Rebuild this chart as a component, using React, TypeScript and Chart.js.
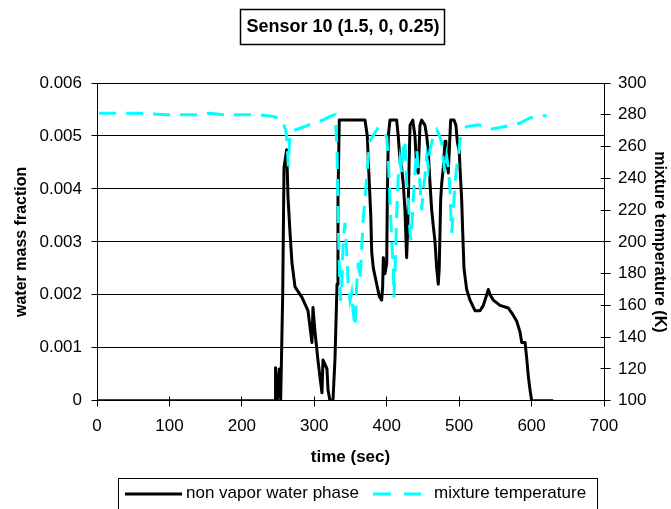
import React, { useEffect, useRef } from "react";
import { Chart, registerables } from "chart.js";

Chart.register(...registerables);

const FONT = "'Liberation Sans', Arial, Helvetica, sans-serif";

const chartTitle = "Sensor 10 (1.5, 0, 0.25)";
const xAxisTitle = "time (sec)";
const leftAxisTitle = "water mass fraction";
const rightAxisTitle = "mixture temperature (K)";
const seriesNames = ["non vapor water phase", "mixture temperature"];

// time (sec) for the water mass fraction series
const waterTime = [
  0, 245.8, 246.5, 248.9, 251.7, 253.6, 256.4, 258.2, 261.9, 263.7,
  266.5, 269.2, 273.4, 283, 291.3, 294, 296.8, 298.2, 301, 305,
  307.8, 310.6, 312, 317.5, 319, 321.7, 325.8, 328.6, 331.4, 332.7,
  334.5, 370, 373.2, 376, 378, 379.3, 381.6, 386.2, 389.8, 393,
  394.4, 395.3, 397.6, 400, 400.8, 402.2, 404.5, 413.7, 415.9, 418.3,
  420.6, 422.8, 425.2, 427.5, 428.9, 430.8, 432.2, 435.9, 439, 441.4,
  443.5, 445.9, 448.3, 452.8, 455.2, 457.4, 459.8, 462.1, 464.3, 466.7,
  469, 471.2, 472.5, 474.5, 475.9, 478.1, 480.5, 481.8, 483.6, 485,
  486.3, 488.3, 492.9, 495.6, 497.4, 500.2, 501.2, 503.5, 504.9, 506.7,
  510.4, 515, 521.9, 528.8, 533.4, 538.1, 540.3, 542.6, 547.2, 556.4,
  567.9, 572.6, 579.5, 584, 586.4, 591, 593.3, 595.6, 597.9, 600.2,
  630,
];

// water mass fraction values
const waterFraction = [
  0, 0, 0.00062, 0, 0.0006, 0.00002, 0.002, 0.0044, 0.00474, 0.00385,
  0.00317, 0.0026, 0.00215, 0.00195, 0.0017, 0.0014, 0.0011, 0.00176, 0.0013, 0.00077,
  0.00045, 0.00015, 0.00077, 0.0006, 0.0002, 0, 0, 0.0008, 0.0022, 0.0038,
  0.0053, 0.0053, 0.005, 0.0041, 0.0035, 0.0028, 0.0025, 0.0022, 0.00197, 0.0019,
  0.00215, 0.0027, 0.0024, 0.0026, 0.0038, 0.005, 0.0053, 0.0053, 0.005, 0.00455,
  0.0044, 0.0041, 0.0036, 0.0027, 0.0032, 0.0044, 0.0052, 0.0053, 0.005, 0.0044,
  0.0043, 0.0052, 0.0053, 0.0052, 0.005, 0.0047, 0.0041, 0.0036, 0.0033, 0.003,
  0.0025, 0.0022, 0.0025, 0.0038, 0.0041, 0.0044, 0.0049, 0.0044, 0.0047, 0.0043,
  0.0047, 0.0053, 0.0053, 0.0052, 0.0049, 0.0047, 0.0044, 0.0038, 0.0032, 0.0025,
  0.0021, 0.0019, 0.0017, 0.0017, 0.0018, 0.002, 0.0021, 0.002, 0.0019, 0.0018,
  0.00175, 0.00166, 0.0015, 0.0013, 0.0011, 0.0011, 0.0008, 0.00045, 0.0002, 0,
  0,
];

// time (sec) for the mixture temperature series
const tempTime = [
  3, 32, 59, 96, 138, 156, 174, 211, 225, 243,
  255.4, 261, 262.7, 264.1, 266.5, 271, 287, 294, 301, 312.4,
  321.7, 328.6, 331.4, 332.7, 334.8, 336.2, 337.8, 340, 342.4, 344.6,
  346.9, 349.3, 351.6, 353.9, 356.2, 357.6, 358.5, 360.8, 363.1, 365.4,
  367.7, 370, 372.4, 374.6, 376.9, 379.3, 388.4, 395.3, 400, 402.2,
  404.5, 406.9, 409.1, 410, 411.4, 413.7, 415.9, 418.3, 420.7, 422.9,
  425.2, 427.6, 429.8, 432.2, 433.5, 436.7, 439, 441.4, 443.6, 445.9,
  448.3, 450.5, 452.8, 455.2, 457.4, 459.8, 462.1, 464.3, 469, 473.6,
  475.9, 478.1, 480.5, 482.8, 485, 487.4, 488.3, 489.7, 491.1, 492.9,
  494.3, 496.6, 498.8, 501.2, 505.7, 510.4, 526.4, 538, 545, 563.3,
  574.8, 584, 597.8, 616.2, 620.8,
];

// mixture temperature (K)
const tempKelvin = [
  281, 281, 281, 280, 280, 281, 280, 280, 280, 279,
  277, 269.5, 260, 247.5, 268.7, 270, 272.6, 274, 274.8, 276.8,
  279, 280, 260, 220, 180, 163, 170, 201, 212, 195,
  172, 163, 168, 155, 146.6, 159, 172, 187, 176, 195,
  216, 226, 241, 253.6, 264, 265.5, 272, 269.5, 266, 251.7,
  226.5, 201, 184, 165, 180, 216, 241, 251.7, 243.5, 260,
  264, 237, 226.5, 205.7, 201, 226.5, 243.5, 258, 247, 237,
  220, 232.8, 241, 253.6, 247, 258, 262.4, 266.2, 270.6, 266,
  262, 251.7, 243.5, 253.6, 247, 232.8, 220, 205.7, 213.8, 226.5,
  237, 247, 253.6, 264.2, 269.5, 272.6, 273.7, 271.6, 271, 272.6,
  273.7, 274.8, 278, 279.4, 279.4,
];

const alignPx = (p: number) => Math.round(p - 0.5) + 0.5;

export default function App() {
  const ref = useRef<HTMLCanvasElement | null>(null);

  useEffect(() => {
    const canvas = ref.current;
    if (!canvas) return;

    const decor = {
      id: "decor",
      beforeDatasetsDraw(chart: any) {
        const ctx = chart.ctx;
        const { x, y, y1 } = chart.scales;
        ctx.save();
        ctx.strokeStyle = "#000";
        ctx.lineWidth = 1;
        ctx.beginPath();
        const lx = alignPx(x.left);
        const rx = alignPx(x.right);
        const by = alignPx(y.bottom);
        y.ticks.forEach((t: any) => {
          const py = alignPx(y.getPixelForValue(t.value));
          ctx.moveTo(lx - 6, py);
          ctx.lineTo(lx + 4, py);
        });
        y1.ticks.forEach((t: any) => {
          const py = alignPx(y1.getPixelForValue(t.value));
          ctx.moveTo(rx - 4, py);
          ctx.lineTo(rx + 6, py);
        });
        x.ticks.forEach((t: any) => {
          const px = alignPx(x.getPixelForValue(t.value));
          ctx.moveTo(px, by - 4);
          ctx.lineTo(px, by + 6);
        });
        ctx.stroke();
        ctx.restore();
      },
      afterDraw(chart: any) {
        const ctx = chart.ctx;
        ctx.save();
        // title box
        ctx.strokeStyle = "#000";
        ctx.lineWidth = 1.5;
        ctx.strokeRect(240.5, 9.5, 204, 35);
        ctx.fillStyle = "#000";
        ctx.font = `bold 18px ${FONT}`;
        ctx.textAlign = "center";
        ctx.textBaseline = "alphabetic";
        ctx.fillText(chartTitle, 343, 32);

        // legend box
        ctx.lineWidth = 1;
        ctx.strokeRect(118.5, 478.5, 479, 40);
        // series 1 sample
        ctx.lineWidth = 3;
        ctx.strokeStyle = "#000";
        ctx.beginPath();
        ctx.moveTo(125, 494);
        ctx.lineTo(182, 494);
        ctx.stroke();
        // series 2 sample
        ctx.strokeStyle = "#00FFFF";
        ctx.beginPath();
        ctx.moveTo(373, 494);
        ctx.lineTo(391, 494);
        ctx.moveTo(404, 494);
        ctx.lineTo(421, 494);
        ctx.stroke();
        ctx.font = `17px ${FONT}`;
        ctx.textAlign = "left";
        ctx.fillStyle = "#000";
        ctx.fillText(seriesNames[0], 186, 498);
        ctx.fillText(seriesNames[1], 434, 498);
        ctx.restore();
      },
    };

    const tickFont = { family: FONT, size: 17 };

    const chart = new Chart(canvas, {
      type: "line",
      data: {
        datasets: [
          {
            label: seriesNames[0],
            data: waterTime.map((t, i) => ({ x: t, y: waterFraction[i] })),
            yAxisID: "y",
            borderColor: "#000000",
            borderWidth: 3,
            borderJoinStyle: "round",
            pointRadius: 0,
            tension: 0,
            order: 1,
          },
          {
            label: seriesNames[1],
            data: tempTime.map((t, i) => ({ x: t, y: tempKelvin[i] })),
            yAxisID: "y1",
            borderColor: "#00FFFF",
            borderWidth: 3,
            borderDash: [17, 10],
            pointRadius: 0,
            tension: 0,
            order: 0,
          },
        ],
      },
      options: {
        responsive: false,
        animation: false,
        events: [],
        layout: { padding: { top: 83, left: 0, right: 0, bottom: 0 } },
        plugins: {
          legend: { display: false },
          title: { display: false },
          tooltip: { enabled: false },
        },
        scales: {
          x: {
            type: "linear",
            position: "bottom",
            min: 0,
            max: 700,
            ticks: {
              stepSize: 100,
              font: tickFont,
              color: "#000",
              padding: 15,
              maxRotation: 0,
              autoSkip: false,
            },
            grid: { display: false, drawTicks: false },
            border: { display: true, color: "#000", width: 1 },
            title: {
              display: true,
              text: xAxisTitle,
              color: "#000",
              font: { family: FONT, size: 17, weight: "bold" },
              padding: { top: 0, bottom: 41 },
            },
            afterFit: (s: any) => {
              s.height = 108.3;
            },
          },
          y: {
            type: "linear",
            position: "left",
            min: 0,
            max: 0.006,
            ticks: {
              stepSize: 0.001,
              font: tickFont,
              color: "#000",
              padding: 15,
              callback: (v: any) => (Math.abs(v) < 1e-9 ? "0" : Number(v).toFixed(3)),
            },
            grid: { display: true, color: "#000", lineWidth: 1, drawTicks: false },
            border: { display: true, color: "#000", width: 1 },
            title: {
              display: true,
              text: leftAxisTitle,
              color: "#000",
              font: { family: FONT, size: 16, weight: "bold" },
              padding: { top: 12, bottom: 0 },
            },
            afterFit: (s: any) => {
              s.width = 97;
            },
          },
          y1: {
            type: "linear",
            position: "right",
            min: 100,
            max: 300,
            ticks: {
              stepSize: 20,
              font: tickFont,
              color: "#000",
              padding: 14,
            },
            grid: { display: false, drawOnChartArea: false, drawTicks: false },
            border: { display: true, color: "#000", width: 1 },
            title: {
              display: true,
              text: rightAxisTitle,
              color: "#000",
              font: { family: FONT, size: 16, weight: "bold" },
              padding: { top: 2, bottom: 0 },
            },
            afterFit: (s: any) => {
              s.width = 67;
            },
          },
        },
      },
      plugins: [decor],
    } as any);

    return () => {
      chart.destroy();
    };
  }, []);

  return (
    <div style={{ position: "absolute", left: 0, top: 0, width: 671, height: 509, background: "#fff" }}>
      <canvas ref={ref} width={671} height={509} style={{ display: "block" }} />
    </div>
  );
}
